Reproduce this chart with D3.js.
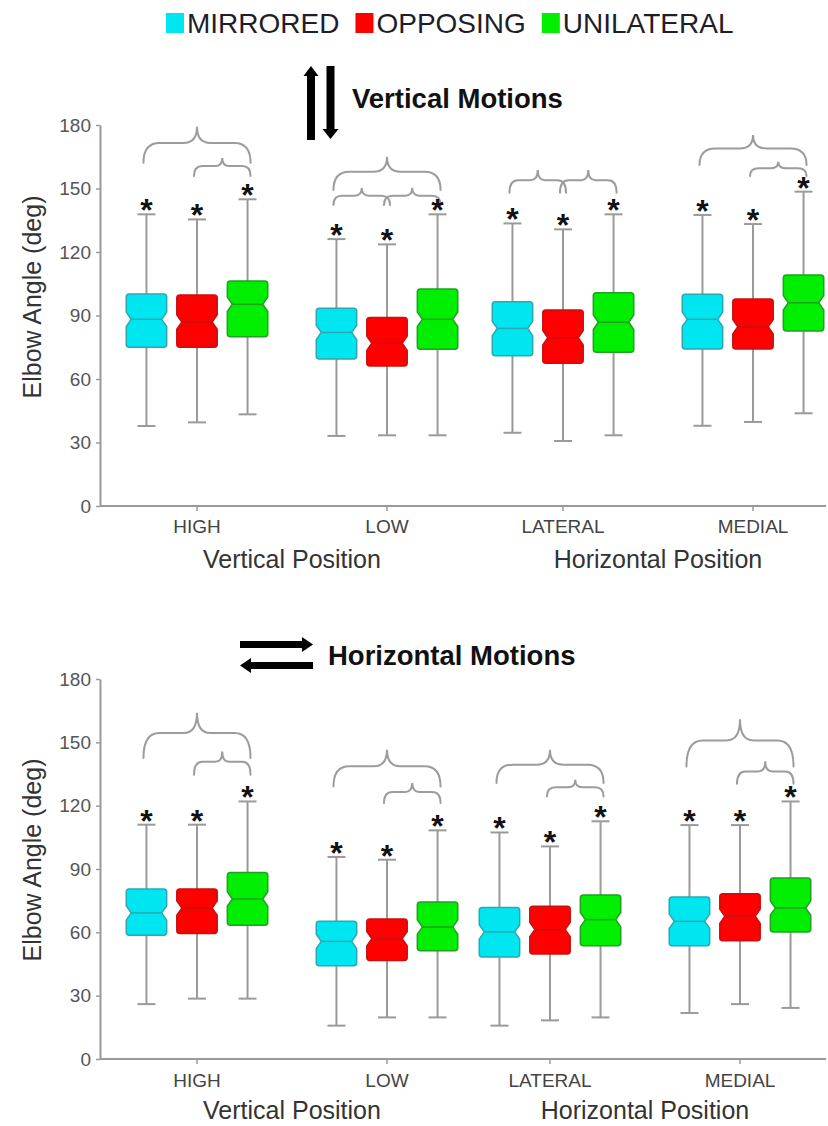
<!DOCTYPE html>
<html>
<head>
<meta charset="utf-8">
<script src="https://cdn.jsdelivr.net/npm/d3@7/dist/d3.min.js"></script>
<style>
  html, body { margin: 0; padding: 0; background: #fff; }
  svg { display: block; font-family: "Liberation Sans", Arial, Helvetica, sans-serif; }
</style>
</head>
<body>
<svg id="chart" width="828" height="1126"></svg>
<script>
// ---------------- DATA ----------------
const categories = ["HIGH", "LOW", "LATERAL", "MEDIAL"];
const positionTypes = ["Vertical Position", "Horizontal Position"];
const categoryPosition = ["Vertical Position", "Vertical Position", "Horizontal Position", "Horizontal Position"];
const series = ["MIRRORED", "OPPOSING", "UNILATERAL"];
const yTicks = [0, 30, 60, 90, 120, 150, 180];
const panelTitles = ["Vertical Motions", "Horizontal Motions"];
const yAxisTitle = "Elbow Angle (deg)";

// Vertical motions (rows = categories, cols = series)
const vertMin    = [[37.8, 39.5, 43.3], [33.1, 33.4, 33.4], [34.6, 30.7, 33.4], [37.9, 39.7, 43.8]];
const vertQ1     = [[75.0, 75.0, 80.0], [69.4, 66.1, 74.0], [71.0, 67.4, 72.6], [74.2, 74.2, 82.7]];
const vertMedian = [[88.2, 86.9, 95.3], [82.0, 76.9, 88.2], [83.9, 79.5, 86.8], [88.2, 84.7, 96.0]];
const vertQ3     = [[100.1, 99.7, 106.3], [93.4, 89.1, 102.5], [96.5, 92.6, 100.8], [100.0, 97.8, 109.1]];
const vertMax    = [[137.8, 135.4, 144.9], [126.1, 123.6, 137.8], [133.5, 130.7, 137.8], [137.5, 133.2, 148.5]];

// Horizontal motions
const horizMin    = [[26.0, 28.6, 28.6], [15.8, 19.7, 19.7], [15.8, 18.3, 19.7], [21.8, 26.0, 24.2]];
const horizQ1     = [[58.6, 59.4, 63.3], [44.2, 46.7, 51.3], [48.3, 49.7, 53.7], [53.7, 56.0, 60.2]];
const horizMedian = [[69.2, 71.5, 75.8], [55.7, 57.0, 62.5], [60.2, 61.3, 66.0], [65.2, 67.6, 71.5]];
const horizQ3     = [[80.5, 80.5, 88.4], [65.2, 66.3, 74.4], [71.8, 72.3, 77.7], [76.7, 78.3, 85.7]];
const horizMax    = [[111.0, 111.0, 122.0], [95.7, 94.4, 108.3], [107.3, 100.7, 112.6], [110.8, 110.8, 122.0]];

// Significance braces: [category, from series, to series, end value, peak value]
const vertBraces = [
  ["HIGH", "MIRRORED", "UNILATERAL", 162.2, 179.2],
  ["HIGH", "OPPOSING", "UNILATERAL", 155.9, 164.4],
  ["LOW", "MIRRORED", "UNILATERAL", 149.3, 165.0],
  ["LOW", "MIRRORED", "OPPOSING", 142.2, 150.2],
  ["LOW", "OPPOSING", "UNILATERAL", 142.2, 150.2],
  ["LATERAL", "MIRRORED", "OPPOSING", 148.0, 158.7],
  ["LATERAL", "OPPOSING", "UNILATERAL", 148.0, 158.7],
  ["MEDIAL", "MIRRORED", "UNILATERAL", 161.1, 175.3],
  ["MEDIAL", "OPPOSING", "UNILATERAL", 155.9, 162.6]
];
const horizBraces = [
  ["HIGH", "MIRRORED", "UNILATERAL", 142.6, 164.0],
  ["HIGH", "OPPOSING", "UNILATERAL", 134.7, 145.7],
  ["LOW", "MIRRORED", "UNILATERAL", 129.1, 146.5],
  ["LOW", "OPPOSING", "UNILATERAL", 121.3, 130.7],
  ["LATERAL", "MIRRORED", "UNILATERAL", 130.7, 146.5],
  ["LATERAL", "OPPOSING", "UNILATERAL", 124.4, 132.3],
  ["MEDIAL", "MIRRORED", "UNILATERAL", 138.6, 160.9],
  ["MEDIAL", "OPPOSING", "UNILATERAL", 130.4, 141.0]
];

// ---------------- STYLE / LAYOUT ----------------
const fillColors = { MIRRORED: "#00e6f0", OPPOSING: "#ff0000", UNILATERAL: "#00ee00" };
const strokeColors = { MIRRORED: "#2aa8b2", OPPOSING: "#c81010", UNILATERAL: "#22a022" };
const axisColor = "#9a9a9a";
const whiskerColor = "#9a9a9a";
const braceColor = "#9c9c9c";

const svg = d3.select("#chart");

// ---------------- LEGEND ----------------
(function legend() {
  let x = 166;
  const g = svg.append("g");
  series.forEach((s, i) => {
    g.append("rect").attr("x", x).attr("y", 13).attr("width", 18).attr("height", 20)
      .attr("fill", fillColors[s]);
    const t = g.append("text").attr("x", x + 21).attr("y", 33)
      .attr("font-size", 28).attr("fill", "#1e1e2a").text(s);
    const w = t.node().getComputedTextLength();
    x = x + 21 + w + 16;
  });
})();

// ---------------- PANELS ----------------
const panels = [
  {
    title: panelTitles[0], arrows: "vertical",
    min: vertMin, q1: vertQ1, med: vertMedian, q3: vertQ3, max: vertMax, braces: vertBraces,
    yRange: [506, 125], posRange: [292, 658],
    catLabelY: 533, posLabelY: 568, titleX: 352, titleY: 108, axisTitleY: 297
  },
  {
    title: panelTitles[1], arrows: "horizontal",
    min: horizMin, q1: horizQ1, med: horizMedian, q3: horizQ3, max: horizMax, braces: horizBraces,
    yRange: [1059, 679], posRange: [292, 645],
    catLabelY: 1087, posLabelY: 1119, titleX: 328, titleY: 665, axisTitleY: 860
  }
];

const axisX = 100, axisRight = 826;

panels.forEach(p => {
  const g = svg.append("g");
  const y = d3.scaleLinear().domain([0, 180]).range(p.yRange);
  const xPos = d3.scalePoint().domain(positionTypes).range(p.posRange);
  const xInner = d3.scalePoint().domain([0, 1]).range([-95, 95]);
  const catX = c => {
    const i = categories.indexOf(c);
    const pt = categoryPosition[i];
    const idxInPair = categories.filter((cc, j) => categoryPosition[j] === pt).indexOf(c);
    return xPos(pt) + xInner(idxInPair);
  };
  const xSeries = d3.scaleBand().domain(series).range([-70.75, 70.75]).paddingInner(0.2).paddingOuter(0);
  const bw = xSeries.bandwidth();
  const cx = (c, s) => catX(c) + xSeries(s) + bw / 2;

  // Axes
  const yAxis = d3.axisLeft(y).tickValues(yTicks).tickSize(4).tickSizeOuter(0).tickPadding(5);
  const ya = g.append("g").attr("transform", `translate(${axisX},0)`).call(yAxis);
  ya.select(".domain").attr("stroke", axisColor).attr("stroke-width", 2);
  ya.selectAll(".tick line").attr("stroke", axisColor).attr("stroke-width", 1.5);
  ya.selectAll(".tick text").attr("font-size", 19).attr("fill", "#555")
    .attr("font-family", "'Liberation Sans', Arial, sans-serif");

  // x axis line
  g.append("line").attr("x1", axisX).attr("x2", axisRight)
    .attr("y1", y(0)).attr("y2", y(0)).attr("stroke", axisColor).attr("stroke-width", 2);
  categories.forEach(c => {
    g.append("line").attr("x1", catX(c)).attr("x2", catX(c))
      .attr("y1", y(0)).attr("y2", y(0) + 5).attr("stroke", axisColor).attr("stroke-width", 1.5);
    g.append("text").attr("x", catX(c)).attr("y", p.catLabelY).attr("text-anchor", "middle")
      .attr("font-size", 19).attr("fill", "#444").text(c);
  });
  positionTypes.forEach(pt => {
    g.append("text").attr("x", xPos(pt)).attr("y", p.posLabelY).attr("text-anchor", "middle")
      .attr("font-size", 25).attr("fill", "#333").text(pt);
  });

  // y axis title
  g.append("text").attr("transform", `translate(41,${p.axisTitleY}) rotate(-90)`)
    .attr("text-anchor", "middle").attr("font-size", 25).attr("fill", "#333").text(yAxisTitle);

  // Panel title and arrows
  g.append("text").attr("x", p.titleX).attr("y", p.titleY).attr("font-size", 27.5)
    .attr("font-weight", "bold").attr("fill", "#111").text(p.title);
  const arrowG = g.append("g").attr("fill", "#000");
  if (p.arrows === "vertical") {
    arrowG.append("rect").attr("x", 307).attr("y", 74).attr("width", 8).attr("height", 66);
    arrowG.append("path").attr("d", "M303.5,76 L311,66 L318.5,76 Z");
    arrowG.append("rect").attr("x", 326.5).attr("y", 66).attr("width", 8).attr("height", 64);
    arrowG.append("path").attr("d", "M322.5,129 L330.5,139 L338.5,129 Z");
  } else {
    arrowG.append("rect").attr("x", 240).attr("y", 641).attr("width", 64).attr("height", 7);
    arrowG.append("path").attr("d", "M302,637 L313,644.5 L302,652 Z");
    arrowG.append("rect").attr("x", 249).attr("y", 662).attr("width", 64).attr("height", 7);
    arrowG.append("path").attr("d", "M251,658 L240,665.5 L251,673 Z");
  }

  // Braces
  p.braces.forEach(([c, s1, s2, endV, peakV]) => {
    const x1 = cx(c, s1) - 3, x2 = cx(c, s2) + 3;
    const yE = y(endV), yP = y(peakV);
    const yF = yE + 0.55 * (yP - yE);
    const xm = (x1 + x2) / 2, h = (x2 - x1) / 2;
    const w = 0.3 * h, wm = 0.25 * h;
    const d = `M${x1},${yE} Q${x1},${yF} ${x1 + w},${yF} L${xm - wm},${yF} Q${xm},${yF} ${xm},${yP} ` +
              `Q${xm},${yF} ${xm + wm},${yF} L${x2 - w},${yF} Q${x2},${yF} ${x2},${yE}`;
    g.append("path").attr("d", d).attr("fill", "none").attr("stroke", braceColor)
      .attr("stroke-width", 2).attr("stroke-linecap", "round");
  });

  // Boxes
  categories.forEach((c, ci) => {
    series.forEach((s, si) => {
      const x = cx(c, s);
      const vMin = p.min[ci][si], vQ1 = p.q1[ci][si], vMed = p.med[ci][si], vQ3 = p.q3[ci][si], vMax = p.max[ci][si];
      const capW = 18;
      const wg = g.append("g").attr("stroke", whiskerColor).attr("stroke-width", 2);
      wg.append("line").attr("x1", x).attr("x2", x).attr("y1", y(vMax)).attr("y2", y(vQ3));
      wg.append("line").attr("x1", x).attr("x2", x).attr("y1", y(vQ1)).attr("y2", y(vMin));
      wg.append("line").attr("x1", x - capW / 2).attr("x2", x + capW / 2).attr("y1", y(vMax)).attr("y2", y(vMax));
      wg.append("line").attr("x1", x - capW / 2).attr("x2", x + capW / 2).attr("y1", y(vMin)).attr("y2", y(vMin));

      const L = x - bw / 2, R = x + bw / 2;
      const t = y(vQ3), b = y(vQ1), m = y(vMed);
      const nh = Math.abs(y(0) - y(3.4));
      const nt = m - nh, nb = m + nh, ind = 5, r = 3;
      const d = `M${L + r},${t} L${R - r},${t} Q${R},${t} ${R},${t + r} L${R},${nt} L${R - ind},${m} L${R},${nb} ` +
                `L${R},${b - r} Q${R},${b} ${R - r},${b} L${L + r},${b} Q${L},${b} ${L},${b - r} L${L},${nb} ` +
                `L${L + ind},${m} L${L},${nt} L${L},${t + r} Q${L},${t} ${L + r},${t} Z`;
      g.append("path").attr("d", d).attr("fill", fillColors[s]).attr("stroke", strokeColors[s])
        .attr("stroke-width", 1.5).attr("stroke-linejoin", "round");
      g.append("line").attr("x1", L + ind).attr("x2", R - ind).attr("y1", m).attr("y2", m)
        .attr("stroke", strokeColors[s]).attr("stroke-width", 1.5);

      // significance star
      g.append("text").attr("x", x).attr("y", y(vMax) - 12 + 19).attr("text-anchor", "middle")
        .attr("font-size", 32).attr("font-weight", "bold").attr("fill", "#111").text("*");
    });
  });
});
</script>
</body>
</html>
